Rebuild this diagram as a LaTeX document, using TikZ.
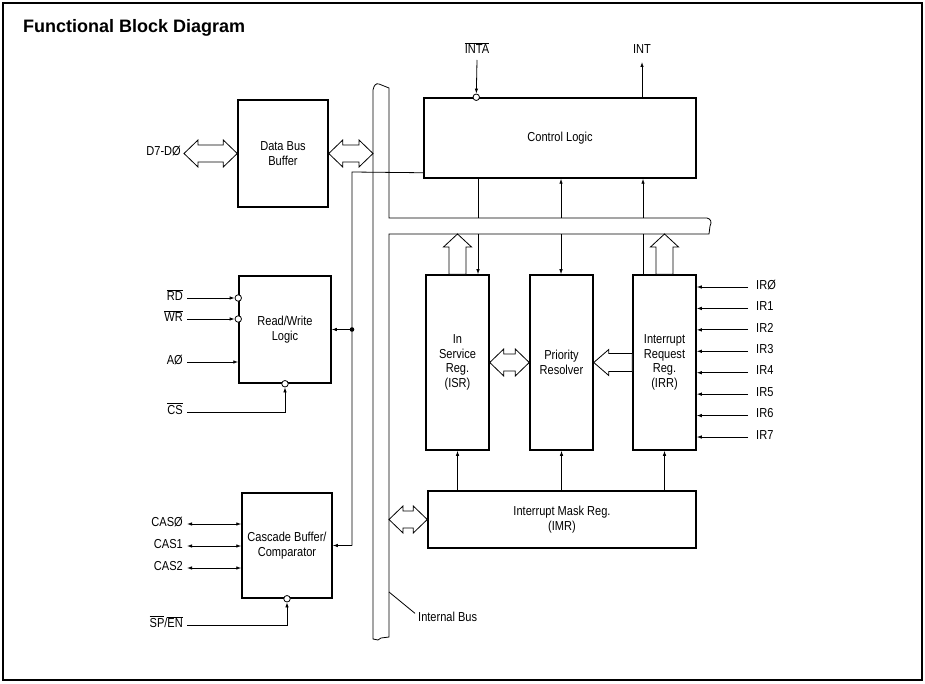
\documentclass[tikz,border=0pt]{standalone}
\usepackage{fontspec}
\usetikzlibrary{arrows.meta,calc}
\newfontfamily\plotfont[FakeStretch=0.85]{Liberation Sans}
\newfontfamily\titlefont{Liberation Sans}
\newcommand\ovl[1]{$\overline{\hbox{#1}}$}
\newcommand\zr{Ø}
% horizontal double wide arrow: #1 left tip, #2 right tip (same height)
\newcommand\hDouble[2]{\draw[widearrow] let \p1=#1, \p2=#2 in
  (\x1,\y1) -- (\x1+14pt,\y1+13.5pt) -- (\x1+14pt,\y1+8.5pt) -- (\x2-14pt,\y1+8.5pt)
  -- (\x2-14pt,\y1+13.5pt) -- (\x2,\y1) -- (\x2-14pt,\y1-13.5pt) -- (\x2-14pt,\y1-8.5pt)
  -- (\x1+14pt,\y1-8.5pt) -- (\x1+14pt,\y1-13.5pt) -- cycle;}
% horizontal wide arrow pointing left: #1 tip, #2 tail
\newcommand\hLeft[2]{\draw[widearrow] let \p1=#1, \p2=#2 in
  (\x1,\y1) -- (\x1+15pt,\y1+13pt) -- (\x1+15pt,\y1+9pt) -- (\x2,\y1+9pt)
  -- (\x2,\y1-9pt) -- (\x1+15pt,\y1-9pt) -- (\x1+15pt,\y1-13pt) -- cycle;}
% vertical wide arrow pointing up: #1 tip, #2 tail
\newcommand\vUp[2]{\draw[widearrow] let \p1=#1, \p2=#2 in
  (\x1,\y1) -- (\x1+14pt,\y1-13pt) -- (\x1+8.5pt,\y1-13pt) -- (\x1+8.5pt,\y2)
  -- (\x1-8.5pt,\y2) -- (\x1-8.5pt,\y1-13pt) -- (\x1-14pt,\y1-13pt) -- cycle;}
\begin{document}
\begin{tikzpicture}[x=1pt,y=-1pt,
  blk/.style={draw, line width=1.5pt, inner sep=0pt, align=center,
    font=\plotfont\fontsize{13pt}{14.5pt}\selectfont},
  pinlbl/.style={inner sep=0pt, font=\plotfont\fontsize{13pt}{14.5pt}\selectfont},
  wire/.style={line width=0.8pt},
  tip/.style={-{Latex[length=5pt,width=3.5pt]}},
  bitip/.style={{Latex[length=5pt,width=3.5pt]}-{Latex[length=5pt,width=3.5pt]}},
  bubble/.style={circle, draw, fill=white, line width=0.8pt, inner sep=0pt, minimum size=6.5pt},
  widearrow/.style={draw, line width=0.8pt, fill=white, line join=miter},
  busline/.style={line width=0.8pt}]
\useasboundingbox (0,0) rectangle (925,684);
\draw[line width=1.1pt] (3,3) rectangle (922,680);
\node[anchor=base west, inner sep=0pt, font=\titlefont\bfseries\fontsize{18pt}{20pt}\selectfont] (title) at (23,33) {Functional Block Diagram};

% internal bus
\draw[busline] (373,639) -- (373,90) .. controls (374,85) and (376,83) .. (379,84) -- (389,88)
  -- (389,218) -- (707,218) .. controls (711,219) and (712,222) .. (710,226) -- (709,234)
  -- (389,234) -- (389,637) -- (381,638) -- (378,640) -- cycle;
\coordinate (busL) at (373,0);
\coordinate (busR) at (389,0);
\coordinate (lead) at (389,592);

% blocks
\node[blk, minimum width=90pt, minimum height=107pt] (dbb) at (283,153.5) {Data Bus\\Buffer};
\node[blk, minimum width=92pt, minimum height=107pt] (rwl) at (285,329.5) {Read/Write\\Logic};
\node[blk, minimum width=90pt, minimum height=105pt] (cas) at (287,545.5) {Cascade Buffer/\\Comparator};
\node[blk, minimum width=272pt, minimum height=80pt] (ctl) at (560,138) {Control Logic};
\node[blk, minimum width=63pt, minimum height=175pt] (isr) at (457.5,362.5) {In\\Service\\Reg.\\(ISR)};
\node[blk, minimum width=63pt, minimum height=175pt] (pr) at (561.5,362.5) {Priority\\Resolver};
\node[blk, minimum width=63pt, minimum height=175pt] (irr) at (664.5,362.5) {Interrupt\\Request\\Reg.\\(IRR)};
\node[blk, minimum width=268pt, minimum height=57pt] (imr) at (562,519.5) {Interrupt Mask Reg.\\(IMR)};

% data bus
\node[pinlbl, anchor=mid east] (d70) at (181,153.5) {D7-D\zr};
\hDouble{([xshift=3pt]d70.mid east)}{(dbb.west)}
\hDouble{(dbb.east)}{(dbb.east -| busL)}

% read/write logic pins
\node[pinlbl, anchor=mid east] (rd) at (183,298) {\ovl{RD}};
\node[pinlbl, anchor=mid east] (wr) at (183,319) {\ovl{WR}};
\node[pinlbl, anchor=mid east] (a0) at (183,362) {A\zr};
\node[pinlbl, anchor=mid east] (cs) at (183,412) {\ovl{CS}};
\node[bubble] (brd) at (rwl.west |- rd.mid east) {};
\node[bubble] (bwr) at (rwl.west |- wr.mid east) {};
\node[bubble] (bcs) at (rwl.south) {};
\draw[wire, tip] ([xshift=4pt]rd.mid east) -- (brd);
\draw[wire, tip] ([xshift=4pt]wr.mid east) -- (bwr);
\draw[wire, tip] ([xshift=4pt]a0.mid east) -- (rwl.west |- a0.mid east);
\draw[wire, tip] ([xshift=4pt]cs.mid east) -| (bcs);

% cascade pins
\node[pinlbl, anchor=mid east] (cas0) at (183,524) {CAS\zr};
\node[pinlbl, anchor=mid east] (cas1) at (183,546) {CAS1};
\node[pinlbl, anchor=mid east] (cas2) at (183,568) {CAS2};
\node[pinlbl, anchor=mid east] (spen) at (183,625) {\ovl{SP}/\ovl{EN}};
\node[bubble] (bsp) at (cas.south) {};
\draw[wire, bitip] ([xshift=4pt]cas0.mid east) -- (cas.west |- cas0.mid east);
\draw[wire, bitip] ([xshift=4pt]cas1.mid east) -- (cas.west |- cas1.mid east);
\draw[wire, bitip] ([xshift=4pt]cas2.mid east) -- (cas.west |- cas2.mid east);
\draw[wire, tip] ([xshift=4pt]spen.mid east) -| (bsp);

% local line from control logic to r/w logic and cascade
\coordinate (j1) at (352,172);
\draw[wire] ([yshift=6pt]ctl.south west) -- (j1) -- (j1 |- cas.east);
\draw[wire, tip] (j1 |- cas.east) -- (cas.east);
\draw[wire, tip] (j1 |- rwl.east) -- (rwl.east);
\fill (j1 |- rwl.east) circle (2.3pt);

% INTA / INT
\node[pinlbl, anchor=base] (inta) at (477,54) {\ovl{INTA}};
\node[pinlbl, anchor=base] (int) at (642,54) {INT};
\node[bubble] (binta) at ([xshift=53pt]ctl.north west) {};
\draw[wire, tip] ([yshift=-6pt]inta.base) -- (binta);
\draw[wire, tip] (ctl.north -| int.base) -- ([yshift=-8pt]int.base);

% connections through the bus branch
\coordinate (t1) at (478,218);
\coordinate (t2) at (561,218);
\coordinate (t3) at (643,218);
\coordinate (u1) at (478,234);
\coordinate (u2) at (561,234);
\coordinate (u3) at (643,234);
\draw[wire] (ctl.south -| t1) -- (t1);
\draw[wire, tip] (u1) -- (isr.north -| u1);
\draw[wire, tip] (t2) -- (ctl.south -| t2);
\draw[wire, tip] (u2) -- (pr.north -| u2);
\draw[wire, tip] (t3) -- (ctl.south -| t3);
\draw[wire] (u3) -- (irr.north -| u3);
\vUp{(isr.north |- u1)}{(isr.north)}
\vUp{(irr.north |- u1)}{(irr.north)}

% between registers
\hDouble{(isr.east)}{(pr.west)}
\hLeft{(pr.east)}{(irr.west)}

% IMR
\hDouble{(imr.west -| busR)}{(imr.west)}
\draw[wire, tip] (imr.north -| isr.south) -- (isr.south);
\draw[wire, tip] (imr.north -| pr.south) -- (pr.south);
\draw[wire, tip] (imr.north -| irr.south) -- (irr.south);

% IR inputs
\foreach \i/\lab in {0/IR\zr,1/IR1,2/IR2,3/IR3,4/IR4,5/IR5,6/IR6,7/IR7}{
  \node[pinlbl, anchor=mid west] (ir\i) at (756,287+21.43*\i) {\lab};
  \draw[wire, tip] ([xshift=-8pt]ir\i.mid west) -- (irr.east |- ir\i.mid west);
}

% internal bus label
\node[pinlbl, anchor=base west] (ibus) at (418,621) {Internal Bus};
\draw[wire] (lead) -- ([xshift=-3pt,yshift=3pt]ibus.west);
\end{tikzpicture}
\end{document}
